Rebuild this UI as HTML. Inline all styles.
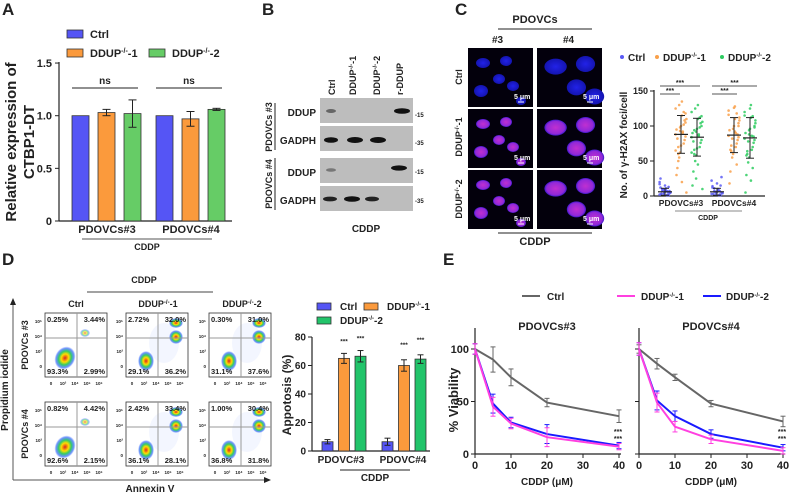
<!DOCTYPE html>
<html><head><meta charset="utf-8"><style>
body{margin:0;background:#fff}
svg{display:block;font-family:"Liberation Sans",Arial,sans-serif;font-weight:bold}
text{fill:#222}
</style></head><body>
<svg id="fig" width="790" height="495" viewBox="0 0 790 495" xmlns="http://www.w3.org/2000/svg">
<defs>
<radialGradient id="blob" cx="50%" cy="50%" r="50%"><stop offset="0" stop-color="#d22"/><stop offset="0.35" stop-color="#fd0"/><stop offset="0.6" stop-color="#3c6"/><stop offset="0.85" stop-color="#36f" stop-opacity="0.7"/><stop offset="1" stop-color="#36f" stop-opacity="0"/></radialGradient>
<radialGradient id="nucB" cx="50%" cy="50%" r="50%"><stop offset="0" stop-color="#2222e8"/><stop offset="1" stop-color="#1414b0"/></radialGradient>
<radialGradient id="nucM" cx="50%" cy="50%" r="50%"><stop offset="0" stop-color="#c030d0"/><stop offset="0.8" stop-color="#9028d8"/><stop offset="1" stop-color="#3818c8"/></radialGradient>
</defs>
<text x="2" y="15" font-size="17">A</text>
<text x="262" y="15" font-size="17">B</text>
<text x="455" y="15" font-size="17">C</text>
<text x="2" y="265" font-size="17">D</text>
<text x="443" y="265" font-size="17">E</text>

<g id="pa">
<text transform="translate(16,142) rotate(-90)" text-anchor="middle" font-size="15">Relative expression of</text>
<text transform="translate(34,142) rotate(-90)" text-anchor="middle" font-size="15">CTBP1-DT</text>
<rect x="67" y="30" width="16" height="8" fill="#5555f5" stroke="#333" stroke-width="0.8"/>
<text x="90" y="38" font-size="11">Ctrl</text>
<rect x="67" y="49" width="16" height="8" fill="#fb9a3c" stroke="#333" stroke-width="0.8"/>
<text x="90" y="57" font-size="11">DDUP<tspan font-size="7" dy="-4">-/-</tspan><tspan dy="4">-1</tspan></text>
<rect x="149" y="49" width="16" height="8" fill="#66cc66" stroke="#333" stroke-width="0.8"/>
<text x="172" y="57" font-size="11">DDUP<tspan font-size="7" dy="-4">-/-</tspan><tspan dy="4">-2</tspan></text>
<text x="107" y="233" text-anchor="middle" font-size="11">PDOVCs#3</text>
<text x="191" y="233" text-anchor="middle" font-size="11">PDOVCs#4</text>
<line x1="82" y1="239" x2="212" y2="239" stroke="#555" stroke-width="1"/>
<text x="147" y="250" text-anchor="middle" font-size="9">CDDP</text>
<line x1="72" y1="88" x2="138" y2="88" stroke="#222"/>
<line x1="156" y1="88" x2="222" y2="88" stroke="#222"/>
<text x="105" y="84" text-anchor="middle" font-size="10">ns</text>
<text x="189" y="84" text-anchor="middle" font-size="10">ns</text>
</g>

<g id="pb">
<text transform="translate(335,95) rotate(-90)" font-size="9">Ctrl</text>
<text transform="translate(356,95) rotate(-90)" font-size="9">DDUP<tspan font-size="6" dy="-3">-/-</tspan><tspan dy="3">-1</tspan></text>
<text transform="translate(380,95) rotate(-90)" font-size="9">DDUP<tspan font-size="6" dy="-3">-/-</tspan><tspan dy="3">-2</tspan></text>
<text transform="translate(403,95) rotate(-90)" font-size="9">r-DDUP</text>
<rect x="320" y="98" width="93" height="25" fill="#bdbdbd"/>
<rect x="320" y="126" width="93" height="25" fill="#bdbdbd"/>
<rect x="320" y="158" width="93" height="25" fill="#bdbdbd"/>
<rect x="320" y="186" width="93" height="25" fill="#bdbdbd"/>
<ellipse cx="331" cy="111" rx="5" ry="2" fill="#666"/>
<ellipse cx="402" cy="111" rx="8" ry="2.8" fill="#111"/>
<ellipse cx="331" cy="140" rx="7" ry="2.8" fill="#111"/>
<ellipse cx="355" cy="140" rx="8" ry="3" fill="#111"/>
<ellipse cx="378" cy="140" rx="8" ry="3" fill="#111"/>
<ellipse cx="331" cy="170" rx="5" ry="1.8" fill="#777"/>
<ellipse cx="399" cy="168" rx="8" ry="2.6" fill="#111"/>
<ellipse cx="330" cy="199" rx="7" ry="2.4" fill="#222"/>
<ellipse cx="352" cy="199" rx="8" ry="2.8" fill="#111"/>
<ellipse cx="372" cy="199" rx="7" ry="2.4" fill="#222"/>
<text x="316" y="116" text-anchor="end" font-size="10">DDUP</text>
<text x="316" y="144" text-anchor="end" font-size="10">GADPH</text>
<text x="316" y="176" text-anchor="end" font-size="10">DDUP</text>
<text x="316" y="204" text-anchor="end" font-size="10">GADPH</text>
<text x="415" y="117" font-size="6">-15</text>
<text x="415" y="145" font-size="6">-35</text>
<text x="415" y="174" font-size="6">-15</text>
<text x="415" y="203" font-size="6">-35</text>
<line x1="275" y1="103" x2="275" y2="150" stroke="#222"/>
<line x1="275" y1="158" x2="275" y2="210" stroke="#222"/>
<text transform="translate(272,127) rotate(-90)" text-anchor="middle" font-size="9">PDOVCs #3</text>
<text transform="translate(272,184) rotate(-90)" text-anchor="middle" font-size="9">PDOVCs #4</text>
<text x="366" y="232" text-anchor="middle" font-size="10">CDDP</text>
</g>

<g id="pc">
<text x="535" y="23" text-anchor="middle" font-size="11">PDOVCs</text>
<line x1="498" y1="29" x2="592" y2="29" stroke="#222"/>
<text x="492" y="43" font-size="10">#3</text>
<text x="563" y="43" font-size="10">#4</text>
<text transform="translate(462,77) rotate(-90)" text-anchor="middle" font-size="9">Ctrl</text>
<text transform="translate(462,137) rotate(-90)" text-anchor="middle" font-size="9">DDUP<tspan font-size="6" dy="-3">-/-</tspan><tspan dy="3">-1</tspan></text>
<text transform="translate(462,199) rotate(-90)" text-anchor="middle" font-size="9">DDUP<tspan font-size="6" dy="-3">-/-</tspan><tspan dy="3">-2</tspan></text>
<line x1="498" y1="233" x2="592" y2="233" stroke="#222"/>
<text x="535" y="245" text-anchor="middle" font-size="11">CDDP</text>
</g>

<g id="pd">
<text x="144" y="283" text-anchor="middle" font-size="9">CDDP</text>
<line x1="87" y1="292" x2="213" y2="292" stroke="#444"/>
<text x="76" y="307" text-anchor="middle" font-size="9">Ctrl</text>
<text x="158" y="307" text-anchor="middle" font-size="9">DDUP<tspan font-size="6" dy="-3">-/-</tspan><tspan dy="3">-1</tspan></text>
<text x="242" y="307" text-anchor="middle" font-size="9">DDUP<tspan font-size="6" dy="-3">-/-</tspan><tspan dy="3">-2</tspan></text>
<line x1="13" y1="480" x2="13" y2="303" stroke="#555"/>
<polygon points="13,298 10,305 16,305" fill="#222"/>
<line x1="13" y1="480" x2="265" y2="480" stroke="#555"/>
<polygon points="271,480 264,477 264,483" fill="#222"/>
<text transform="translate(8,390) rotate(-90)" text-anchor="middle" font-size="10">Propidium iodide</text>
<text transform="translate(28,345) rotate(-90)" text-anchor="middle" font-size="9">PDOVCs #3</text>
<text transform="translate(28,434) rotate(-90)" text-anchor="middle" font-size="9">PDOVCs #4</text>
<text x="150" y="492" text-anchor="middle" font-size="10">Annexin V</text>
</g>

<g id="pe">
<line x1="522" y1="296" x2="540" y2="296" stroke="#666" stroke-width="2"/>
<text x="547" y="300" font-size="10">Ctrl</text>
<line x1="617" y1="296" x2="635" y2="296" stroke="#ff40e0" stroke-width="2"/>
<text x="641" y="300" font-size="10">DDUP<tspan font-size="6" dy="-3">-/-</tspan><tspan dy="3">-1</tspan></text>
<line x1="703" y1="296" x2="721" y2="296" stroke="#1a1aff" stroke-width="2"/>
<text x="726" y="300" font-size="10">DDUP<tspan font-size="6" dy="-3">-/-</tspan><tspan dy="3">-2</tspan></text>
<text transform="translate(458,400) rotate(-90)" text-anchor="middle" font-size="13">% Viability</text>
<text x="547" y="330" text-anchor="middle" font-size="11">PDOVCs#3</text>
<text x="711" y="330" text-anchor="middle" font-size="11">PDOVCs#4</text>
<text x="547" y="485" text-anchor="middle" font-size="10">CDDP (μM)</text>
<text x="711" y="485" text-anchor="middle" font-size="10">CDDP (μM)</text>
</g>
</svg>
<script>
const aGroups = ["PDOVCs#3","PDOVCs#4"];
const aCtrl = [1.0, 1.0];
const aKo1 = [1.03, 0.97];
const aKo2 = [1.02, 1.06];
const aCtrlErr = [0, 0];
const aKo1Err = [0.03, 0.07];
const aKo2Err = [0.13, 0.01];
const aTicks = [0, 0.5, 1.0, 1.5];
const aTickLabels = ["0","0.5","1.0","1.5"];

const cCtrl3 = [2,4,6,8,3,10,12,5,1,7,15,9,3,20,6,2,11,4,8,25,5,13,1,6,9,3,17,7];
const cKo13 = [88,105,120,135,62,70,95,110,80,92,100,55,40,125,85,75,115,98,60,30,5,108,90,72,130,82,65,118,102,20,93,50];
const cKo23 = [84,100,112,130,58,66,90,106,76,88,96,50,35,120,80,70,110,92,60,15,10,104,86,68,125,78,62,114,98,45,25,94];
const cCtrl4 = [3,5,7,9,2,11,14,4,1,8,18,6,3,22,27,2,10,5,7,12,4,15,1,6];
const cKo14 = [86,104,118,128,60,72,94,112,80,90,100,55,35,122,84,75,110,96,64,18,108,88,70,126,82,66,116,100,45,92];
const cKo24 = [82,100,114,130,55,64,90,108,76,86,96,48,30,120,80,70,112,94,60,5,104,85,66,125,78,58,115,98,40,22,88];
const cMeans = [6, 88, 84, 6, 87, 83];
const cSds = [5, 27, 27, 5, 25, 29];
const cTicks = [0, 50, 100, 150];

const dGroups = ["PDOVC#3","PDOVC#4"];
const dCtrl = [6.5, 6.5];
const dKo1 = [65, 60];
const dKo2 = [66.5, 64.5];
const dCtrlErr = [1.5, 2.5];
const dKo1Err = [3.5, 4];
const dKo2Err = [4, 3];
const dTicks = [0, 20, 40, 60, 80];

const eDoses = [0, 5, 10, 20, 40];
const eCtrl3 = [100, 90, 73, 49, 36];
const eKo13 = [100, 45, 29, 16, 7];
const eKo23 = [100, 48, 30, 19, 8];
const eCtrl4 = [100, 86, 73, 48, 31];
const eKo14 = [100, 49, 26, 14, 3];
const eKo24 = [100, 51, 36, 19, 6];
const eCtrlErr3 = [5, 12, 8, 4, 6];
const eKoErr3 = [5, 9, 5, 9, 3];
const eCtrlErr4 = [4, 5, 3, 3, 5];
const eKoErr4 = [6, 9, 5, 4, 3];
const eXTicks = [0, 10, 20, 30, 40];
const eYTicks = [0, 50, 100];

const flowPcts = [
 ["0.25%","3.44%","93.3%","2.99%"],["2.72%","32.0%","29.1%","36.2%"],["0.30%","31.0%","31.1%","37.6%"],
 ["0.82%","4.42%","92.6%","2.15%"],["2.42%","33.4%","36.1%","28.1%"],["1.00%","30.4%","36.8%","31.8%"]];

const svg = document.getElementById('fig');
const NS = 'http://www.w3.org/2000/svg';
function mk(tag, attrs, parent){ const e=document.createElementNS(NS,tag); for(const k in attrs) e.setAttribute(k,attrs[k]); (parent||svg).appendChild(e); return e; }

(function(){
 const g = mk('g',{});
 
 
 const y = v => 221 - v*105.3;
 const ax = mk('line',{x1:59,y1:62,x2:59,y2:221,stroke:'#222','stroke-width':1.2},g);
  
 const bx = mk('line',{x1:59,y1:221,x2:232,y2:221,stroke:'#222','stroke-width':1.2},g);
  
 aTicks.forEach((t,i)=>{
  mk('line',{x1:55,y1:y(t),x2:59,y2:y(t),stroke:'#222'},g);
  const tx = mk('text',{x:52,y:y(t)+4,'text-anchor':'end','font-size':11},g); tx.textContent=aTickLabels[i];
   
 });
 const series=[[aCtrl,aCtrlErr,'#5555f5'],[aKo1,aKo1Err,'#fb9a3c'],[aKo2,aKo2Err,'#66cc66']];
 aGroups.forEach((gname,gi)=>{
  series.forEach((s,si)=>{
   const x0 = 72 + gi*84 + si*26;
   const v = s[0][gi], e = s[1][gi];
   const r = mk('rect',{x:x0,y:y(v),width:17,height:221-y(v),fill:s[2],stroke:'#333','stroke-width':0.8},g);
    
   if(e>0){ const cx=x0+8.5;
    mk('line',{x1:cx,y1:y(v+e),x2:cx,y2:y(v-e),stroke:'#222'},g);
    mk('line',{x1:cx-4,y1:y(v+e),x2:cx+4,y2:y(v+e),stroke:'#222'},g);
    mk('line',{x1:cx-4,y1:y(v-e),x2:cx+4,y2:y(v-e),stroke:'#222'},g);}
  });
 });
})();

(function(){
 const g = mk('g',{});
 
 
 const cols=[468,537], rows=[48,109,170];
 const nuclei=[[12,12,7,5],[35,10,6,5],[28,28,6,5],[42,35,6,5],[10,40,7,6],[50,50,5,4]];
 rows.forEach((ry,ri)=>cols.forEach((cx,ci)=>{
  const r=mk('rect',{x:cx,y:ry,width:65,height:59,fill:'#03000c'},g);
   
  const big = ci===1;
  nuclei.forEach((n,k)=>{ if(big && k>3) return;
   const sx = big? n[0]*1.3 : n[0], sy = big? n[1]*1.3 : n[1];
   mk('ellipse',{cx:cx+(sx%62)+3,cy:ry+(sy%55)+3,rx:(big?n[2]*1.6:n[2]),ry:(big?n[3]*1.6:n[3]),fill:ri===0?'url(#nucB)':'url(#nucM)'},g);
  });
  mk('line',{x1:cx+50,y1:ry+54,x2:cx+56,y2:ry+54,stroke:'#fff'},g);
  const t=mk('text',{x:cx+46,y:ry+51,'font-size':7},g); t.style.fill='#fff'; t.textContent='5 μm';
   
 }));
})();

(function(){
 const g = mk('g',{});
 
 
 const y = v => 196 - v*0.7;
 const ax=mk('line',{x1:654,y1:90,x2:654,y2:196,stroke:'#222','stroke-width':1.2},g);
  
 const bx=mk('line',{x1:654,y1:196,x2:765,y2:196,stroke:'#222','stroke-width':1.2},g);
  
 cTicks.forEach(t=>{ mk('line',{x1:650,y1:y(t),x2:654,y2:y(t),stroke:'#222'},g);
  const tx=mk('text',{x:648,y:y(t)+3,'text-anchor':'end','font-size':9},g); tx.textContent=t;
   });
 const yt=mk('text',{transform:'translate(627,145) rotate(-90)','text-anchor':'middle','font-size':10},g);
 yt.textContent='No. of γ-H2AX foci/cell';
  
 const sets=[cCtrl3,cKo13,cKo23,cCtrl4,cKo14,cKo24];
 const xs=[665,681,697,717,734,750];
 const cols=['#5a5af5','#f9a04a','#2ecc60','#5a5af5','#f9a04a','#2ecc60'];
 sets.forEach((vals,si)=>{
  vals.forEach((v,i)=>{ const j=((i*37)%13-6)*0.9;
   const p=mk('circle',{cx:xs[si]+j,cy:y(v),r:1.3,fill:cols[si],opacity:0.85},g);
    });
  const m=cMeans[si], s=cSds[si], x=xs[si];
  mk('line',{x1:x,y1:y(m+s),x2:x,y2:y(Math.max(0,m-s)),stroke:'#222'},g);
  mk('line',{x1:x-7,y1:y(m),x2:x+7,y2:y(m),stroke:'#222','stroke-width':1.2},g);
  mk('line',{x1:x-4,y1:y(m+s),x2:x+4,y2:y(m+s),stroke:'#222'},g);
  mk('line',{x1:x-4,y1:y(Math.max(0,m-s)),x2:x+4,y2:y(Math.max(0,m-s)),stroke:'#222'},g);
 });
 [[660,700,86],[660,680,94],[712,757,86],[712,737,94]].forEach(b=>{
  mk('line',{x1:b[0],y1:b[2],x2:b[1],y2:b[2],stroke:'#555'},g);
  const s=mk('text',{x:(b[0]+b[1])/2,y:b[2]-1,'text-anchor':'middle','font-size':7},g); s.textContent='***';
   });
 [['PDOVCs#3',681],['PDOVCs#4',734]].forEach(l=>{const t=mk('text',{x:l[1],y:206,'text-anchor':'middle','font-size':8.5},g);t.textContent=l[0];
   });
 mk('line',{x1:675,y1:211,x2:742,y2:211,stroke:'#888'},g);
 const cd=mk('text',{x:708,y:220,'text-anchor':'middle','font-size':7},g); cd.textContent='CDDP';
  
 const leg=[['Ctrl',622,'#5a5af5'],['DDUP',657,'#f9a04a'],['DDUP',722,'#2ecc60']];
 leg.forEach((l,i)=>{ mk('circle',{cx:l[1],cy:57,r:2,fill:l[2]},g);
  const t=mk('text',{x:l[1]+6,y:61,'font-size':10},g);
  t.innerHTML = i===0?'Ctrl':'DDUP<tspan font-size="6" dy="-4">-/-</tspan><tspan dy="4">-'+i+'</tspan>';
   });
})();

(function(){
 const g = mk('g',{});
 
 
 const cols=[45,126,209], rows=[313,402];
 rows.forEach((ry,ri)=>cols.forEach((cx,ci)=>{
  const idx=ri*3+ci, w=62, h=64;
  const r=mk('rect',{x:cx,y:ry,width:w,height:h,fill:'#fff',stroke:'#333','stroke-width':0.8},g);
   
  if(ci===0){ mk('ellipse',{cx:cx+20,cy:ry+45,rx:10,ry:12,fill:'url(#blob)',transform:`rotate(30 ${cx+20} ${ry+45})`},g);
   mk('ellipse',{cx:cx+40,cy:ry+20,rx:5,ry:4,fill:'url(#blob)',opacity:0.6},g);}
  else { mk('ellipse',{cx:cx+38,cy:ry+30,rx:15,ry:20,fill:'#6688ff',opacity:0.08},g);
   mk('ellipse',{cx:cx+20,cy:ry+48,rx:8,ry:10,fill:'url(#blob)'},g);
   mk('ellipse',{cx:cx+50,cy:ry+24,rx:7,ry:7,fill:'url(#blob)'},g);
   mk('ellipse',{cx:cx+50,cy:ry+10,rx:7,ry:5,fill:'url(#blob)'},g);}
  mk('line',{x1:cx+32,y1:ry,x2:cx+32,y2:ry+h,stroke:'#999'},g);
  mk('line',{x1:cx,y1:ry+25,x2:cx+w,y2:ry+25,stroke:'#999'},g);
  const p=flowPcts[idx];
  [[p[0],cx+2,ry+9,'start'],[p[1],cx+w-2,ry+9,'end'],[p[2],cx+2,ry+h-3,'start'],[p[3],cx+w-2,ry+h-3,'end']].forEach(q=>{
   const t=mk('text',{x:q[1],y:q[2],'text-anchor':q[3],'font-size':7.5},g); t.textContent=q[0];
    });
  ['10⁵','10⁴','10³','0'].forEach((l,k)=>{const t=mk('text',{x:cx-3,y:ry+10+k*15,'text-anchor':'end','font-size':4.5},g);t.textContent=l;});
  ['0','10³','10⁴','10⁵','10⁶'].forEach((l,k)=>{const t=mk('text',{x:cx+6+k*12,y:ry+h+8,'text-anchor':'middle','font-size':4.5},g);t.textContent=l;});
 }));
})();

(function(){
 const g = mk('g',{});
 
 
 const y = v => 451 - v*1.425;
 const ax=mk('line',{x1:312,y1:337,x2:312,y2:451,stroke:'#222','stroke-width':1.2},g);
  
 const bx=mk('line',{x1:312,y1:451,x2:430,y2:451,stroke:'#222','stroke-width':1.2},g);
  
 dTicks.forEach(t=>{ mk('line',{x1:308,y1:y(t),x2:312,y2:y(t),stroke:'#222'},g);
  const tx=mk('text',{x:306,y:y(t)+3.5,'text-anchor':'end','font-size':10},g); tx.textContent=t;
   });
 const yt=mk('text',{transform:'translate(291,395) rotate(-90)','text-anchor':'middle','font-size':12},g); yt.textContent='Appotosis (%)';
  
 const series=[[dCtrl,dCtrlErr,'#5555f5'],[dKo1,dKo1Err,'#fb9a3c'],[dKo2,dKo2Err,'#22c46a']];
 dGroups.forEach((gn,gi)=>{
  series.forEach((s,si)=>{
   const x0=322+gi*60+si*16.5, v=s[0][gi], e=s[1][gi], cx=x0+5.5;
   const r=mk('rect',{x:x0,y:y(v),width:11,height:451-y(v),fill:s[2],stroke:'#333','stroke-width':0.8},g);
    
   mk('line',{x1:cx,y1:y(v+e),x2:cx,y2:y(v-e),stroke:'#222'},g);
   mk('line',{x1:cx-3,y1:y(v+e),x2:cx+3,y2:y(v+e),stroke:'#222'},g);
   mk('line',{x1:cx-3,y1:y(v-e),x2:cx+3,y2:y(v-e),stroke:'#222'},g);
   if(si>0){const st=mk('text',{x:cx,y:y(v+e)-10+ (gi===0?0:-3),'text-anchor':'middle','font-size':6.5},g);st.textContent='***';
     }
  });
  const t=mk('text',{x:341+gi*62,y:463,'text-anchor':'middle','font-size':10},g); t.textContent=gn;
   
 });
 mk('line',{x1:340,y1:470,x2:410,y2:470,stroke:'#222'},g);
 const cd=mk('text',{x:375,y:481,'text-anchor':'middle','font-size':10},g); cd.textContent='CDDP';
  
 [[317,303,'#5555f5','Ctrl'],[364,303,'#fb9a3c','DDUP'],[317,317,'#22c46a','DDUP']].forEach((l,i)=>{
  mk('rect',{x:l[0],y:l[1],width:14,height:7,fill:l[2],stroke:'#333','stroke-width':0.8},g);
  const t=mk('text',{x:l[0]+23,y:l[1]+7,'font-size':10},g);
  t.innerHTML = i===0?'Ctrl':'DDUP<tspan font-size="6" dy="-4">-/-</tspan><tspan dy="4">-'+i+'</tspan>';
   });
})();

function viability(x0, seriesList, errList, showLabels, nm){
 const g = mk('g',{});
 
 
 const x = d => x0 + d*3.6, y = v => 454 - v*1.05;
 const ax=mk('line',{x1:x0,y1:328,x2:x0,y2:454,stroke:'#222','stroke-width':1.2},g);
  
 const bx=mk('line',{x1:x0,y1:454,x2:x(40)+2,y2:454,stroke:'#222','stroke-width':1.2},g);
  
 eYTicks.forEach(t=>{ mk('line',{x1:x0-4,y1:y(t),x2:x0,y2:y(t),stroke:'#222'},g);
  if(showLabels){const tx=mk('text',{x:x0-6,y:y(t)+4,'text-anchor':'end','font-size':11},g); tx.textContent=t;
    }});
 eXTicks.forEach(t=>{ mk('line',{x1:x(t),y1:454,x2:x(t),y2:458,stroke:'#222'},g);
  const tx=mk('text',{x:x(t),y:469,'text-anchor':'middle','font-size':11},g); tx.textContent=t;
   });
 const colors=['#666','#1a1aff','#ff40e0'];
 seriesList.forEach((vals,si)=>{
  const pts=eDoses.map((d,i)=>x(d)+','+y(vals[i])).join(' ');
  const pl=mk('polyline',{points:pts,fill:'none',stroke:colors[si],'stroke-width':2},g);
   
  const errs=errList[si];
  eDoses.forEach((d,i)=>{const e=errs[i],cx=x(d);
   mk('line',{x1:cx,y1:y(vals[i]+e),x2:cx,y2:y(Math.max(0,vals[i]-e)),stroke:colors[si],'stroke-width':1},g);
   mk('line',{x1:cx-2.5,y1:y(vals[i]+e),x2:cx+2.5,y2:y(vals[i]+e),stroke:colors[si]},g);
   mk('line',{x1:cx-2.5,y1:y(Math.max(0,vals[i]-e)),x2:cx+2.5,y2:y(Math.max(0,vals[i]-e)),stroke:colors[si]},g);});
 });
 ['***','***'].forEach((s,k)=>{const t=mk('text',{x:x(40)-1,y:434+k*7,'text-anchor':'middle','font-size':7},g);t.textContent=s;
   });
}
viability(475,[eCtrl3,eKo23,eKo13],[eCtrlErr3,eKoErr3,eKoErr3],true,'e-chart-pdovcs3');
viability(639,[eCtrl4,eKo24,eKo14],[eCtrlErr4,eKoErr4,eKoErr4],false,'e-chart-pdovcs4');
</script>
</body></html>
